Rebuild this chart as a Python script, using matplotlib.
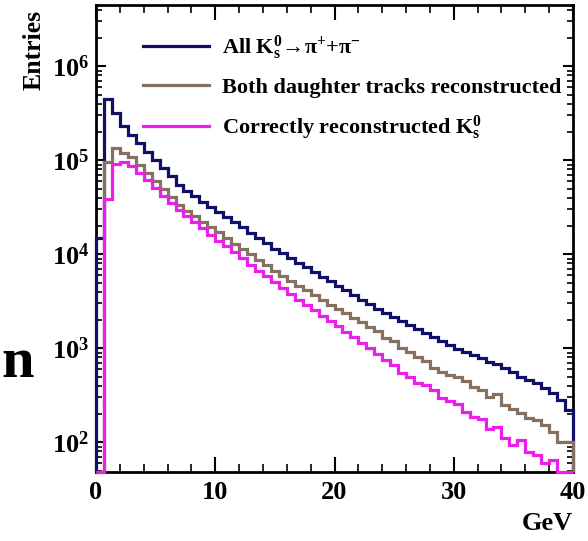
import numpy as np
import matplotlib
matplotlib.use("Agg")
import matplotlib.pyplot as plt
from matplotlib.lines import Line2D
from matplotlib.ticker import FixedLocator, LogFormatterMathtext, MultipleLocator

plt.rcParams['font.family'] = ['Liberation Serif', 'DejaVu Serif']
plt.rcParams['font.weight'] = 'bold'
plt.rcParams['mathtext.fontset'] = 'custom'
plt.rcParams['mathtext.rm'] = 'Liberation Serif:bold'
plt.rcParams['mathtext.bf'] = 'Liberation Serif:bold'
plt.rcParams['mathtext.it'] = 'Liberation Serif:italic:bold'
plt.rcParams['mathtext.default'] = 'rm'

# ---- data (60 bins, 0-40 GeV) ----
x_min, x_max, n_bins = 0.0, 40.0, 60

all_ks = [1.5e4, 4.49e5, 3.19e5, 2.32e5, 1.86e5, 1.53e5, 1.24e5, 1.01e5, 8.28e4, 6.73e4,
          5.46e4, 4.71e4, 4.12e4, 3.64e4, 3.19e4, 2.82e4, 2.49e4, 2.18e4, 1.93e4, 1.69e4,
          1.49e4, 1.32e4, 1.15e4, 1.02e4, 9.04e3, 8.08e3, 7.24e3, 6.48e3, 5.78e3, 5.18e3,
          4.63e3, 4.13e3, 3.69e3, 3.30e3, 2.96e3, 2.64e3, 2.36e3, 2.15e3, 1.95e3, 1.77e3,
          1.60e3, 1.46e3, 1.32e3, 1.20e3, 1.08e3, 984, 914, 849, 789, 715,
          681, 612, 560, 499, 460, 424, 375, 332, 282, 221]

both_tracks = [0, 9.6e4, 1.34e5, 1.21e5, 1.08e5, 8.92e4, 7.33e4, 6.03e4, 4.95e4, 4.07e4,
               3.35e4, 2.92e4, 2.55e4, 2.23e4, 1.95e4, 1.71e4, 1.49e4, 1.30e4, 1.14e4, 9.95e3,
               8.7e3, 7.6e3, 6.64e3, 5.81e3, 5.14e3, 4.6e3, 4.12e3, 3.69e3, 3.26e3, 2.92e3,
               2.62e3, 2.35e3, 2.10e3, 1.88e3, 1.69e3, 1.51e3, 1290, 1197, 1007, 914,
               808, 733, 617, 560, 520, 495, 449, 387, 360, 305,
               327, 249, 226, 205, 181, 173, 153, 130, 101, 100]

correct_ks = [0, 3.87e4, 9.14e4, 9.66e4, 8.69e4, 7.33e4, 6.1e4, 5.07e4, 4.22e4, 3.51e4,
              2.96e4, 2.55e4, 2.21e4, 1.91e4, 1.62e4, 1.40e4, 1.21e4, 1.05e4, 9.02e3, 7.78e3,
              6.72e3, 5.81e3, 5.01e3, 4.33e3, 3.78e3, 3.30e3, 2.89e3, 2.53e3, 2.21e3, 1.95e3,
              1.71e3, 1.49e3, 1.32e3, 1.15e3, 1.01e3, 872, 752, 664, 542, 499,
              424, 407, 360, 296, 275, 255, 210, 187, 177, 138,
              146, 111, 93.6, 106, 79.4, 73.3, 59.8, 64.8, 0, 0]

labels = ['All K$_{s}^{0}$\u2192\u03c0$^{+}$+\u03c0$^{-}$',
          'Both daughter tracks reconstructed',
          'Correctly reconstructed K$_{s}^{0}$']
colors = ['#10106a', '#86705f', '#ec1eec']
x_ticks = [0, 10, 20, 30, 40]
y_lim = (48.6, 4.49e6)

# ---- figure ----
fig = plt.figure(figsize=(5.88, 5.41), dpi=100)
ax = fig.add_axes([96/588, 1-471.7/541, 477/588, 466.7/541])
ax.set_yscale('log')
edges = np.linspace(x_min, x_max, n_bins + 1)

for vals, col in zip([all_ks, both_tracks, correct_ks], colors):
    v = np.clip(np.asarray(vals, float), y_lim[0], None)
    ax.stairs(v, edges, baseline=y_lim[0], color=col, lw=2.3, zorder=3, clip_on=False)

ax.set_xlim(x_min, x_max)
ax.set_ylim(*y_lim)

ax.xaxis.set_major_locator(FixedLocator(x_ticks))
ax.xaxis.set_minor_locator(MultipleLocator(2))
ax.yaxis.set_major_locator(FixedLocator([1e2, 1e3, 1e4, 1e5, 1e6]))
ax.yaxis.set_major_formatter(LogFormatterMathtext())
ax.yaxis.set_minor_locator(matplotlib.ticker.LogLocator(base=10, subs=np.arange(2, 10)))
ax.yaxis.set_minor_formatter(matplotlib.ticker.NullFormatter())

ax.tick_params(axis='both', which='both', direction='in', top=True, right=True, colors='black')
ax.tick_params(axis='x', which='major', length=11, width=1.5, labelsize=19, pad=7)
ax.tick_params(axis='x', which='minor', length=5.5, width=1.2)
ax.tick_params(axis='y', which='major', length=7.5, width=1.5, labelsize=19, pad=5)
ax.tick_params(axis='y', which='minor', length=4, width=1.2)
for lab in ax.get_xticklabels():
    lab.set_fontweight('bold')
for s in ax.spines.values():
    s.set_linewidth(2.0)

handles = [Line2D([], [], color=c, lw=2.3) for c in colors]
ax.legend(handles, labels, loc='upper left', bbox_to_anchor=(0.0985, 0.939),
          frameon=False, fontsize=16, handlelength=2.95, handletextpad=0.6,
          labelspacing=0.71, borderpad=0, borderaxespad=0)

fig.text(34/588, 1-50/541, 'Entries', rotation=90, ha='center', va='center',
         fontsize=18.5, fontweight='bold')
fig.text(573/588, 1-523/541, 'GeV', ha='right', va='center',
         fontsize=19, fontweight='bold')
fig.text(1/588, 1-377/541, 'n', ha='left', va='baseline',
         fontsize=42, fontweight='bold')

fig.savefig('out.png', dpi=100)
